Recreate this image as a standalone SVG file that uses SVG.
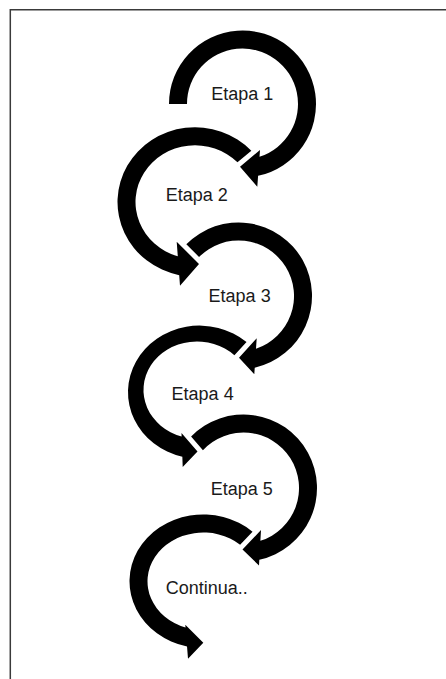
<svg xmlns="http://www.w3.org/2000/svg" width="446" height="679" viewBox="0 0 446 679">
<style>
.arrow{fill:#000;stroke:none}
.label{font-family:"Liberation Sans",Arial,sans-serif;font-size:18px;fill:#1a1a1a}
.frame{fill:none;stroke:#3a3a3a;stroke-width:1.5}
</style>
<rect x="0" y="0" width="446" height="679" fill="#fff"/>
<path class="frame" d="M10.3,679 V9.7 H446"/>
<g id="step1">
<path class="arrow" d="M169,104 A73.5,73.5 0 1 1 258.1,175.83 L257.3,186.7 L240,166.7 L260,150 L259.5,156.83 A55.5,55.5 0 1 0 187,104 Z"/>
<text class="label" x="211.3" y="100">Etapa 1</text>
</g>
<g id="step2">
<path class="arrow" d="M251.35,150.71 A77.5,74.7 0 1 0 179.21,275.13 L180,285.7 L199,264 L176.7,241.7 L177.79,256.28 A59.5,56.7 0 1 1 237.48,162.3 Z"/>
<text class="label" x="165.8" y="200.5">Etapa 2</text>
</g>
<g id="step3">
<path class="arrow" d="M186.32,244.24 A73.5,73.5 0 1 1 254.74,367.68 L254.3,374.3 L239,357.7 L256.7,338.3 L256.01,348.66 A55.5,55.5 0 1 0 199.05,256.97 Z"/>
<text class="label" x="208.6" y="302">Etapa 3</text>
</g>
<g id="step4">
<path class="arrow" d="M246.53,342.04 A71.5,66.5 0 1 0 182.34,456.68 L182.7,467 L197.5,451.5 L181.5,433 L181.62,436.45 A53.5,48.5 0 1 1 234.4,355.32 Z"/>
<text class="label" x="171.6" y="400">Etapa 4</text>
</g>
<g id="step5">
<path class="arrow" d="M191.1,436.46 A73.5,73.5 0 1 1 259.32,559.78 L259,565.5 L242.5,549.5 L261,530 L260.39,540.87 A55.5,55.5 0 1 0 202.93,450.14 Z"/>
<text class="label" x="210.8" y="495">Etapa 5</text>
</g>
<g id="step6">
<path class="arrow" d="M252.53,531.67 A73.7,66.8 0 1 0 187.03,646.47 L188,658.7 L203.3,642.8 L185.3,624.7 L185.53,627.58 A55.7,48.8 0 1 1 240.11,544.75 Z"/>
<text class="label" x="165.8" y="594">Continua..</text>
</g>
<g id="connectors"/>
</svg>
